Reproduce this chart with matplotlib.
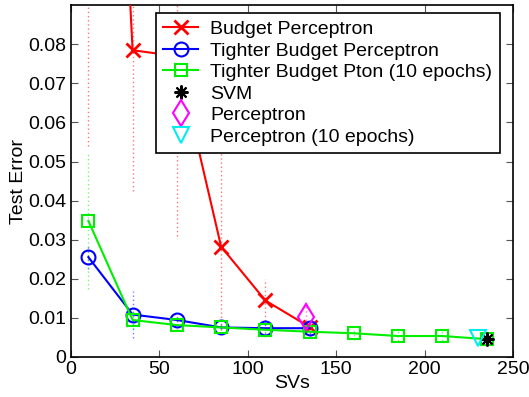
import matplotlib
matplotlib.use("Agg")
import matplotlib.pyplot as plt
import numpy as np

plt.rcParams['font.family'] = ['Liberation Sans', 'DejaVu Sans']

# Budget Perceptron
bp_x = [10, 35, 60, 85, 110, 135]
bp_y = [0.30, 0.0785, 0.077, 0.0282, 0.0144, 0.0076]
bp_lo = [0.246, 0.036, 0.046, 0.0214, 0.0064, 0.0015]
bp_hi = [0.10, 0.10, 0.05, 0.040, 0.0056, 0.0015]

# Tighter Budget Perceptron
tbp_x = [10, 35, 60, 85, 110, 135]
tbp_y = [0.0255, 0.0108, 0.0094, 0.0075, 0.0073, 0.0073]
tbp_err = [0.003, 0.006, 0.0015, 0.0015, 0.0015, 0.0015]

# Tighter Budget Pton (10 epochs)
tbp10_x = [10, 35, 60, 85, 110, 135, 160, 185, 210, 235]
tbp10_y = [0.0348, 0.0094, 0.0081, 0.0075, 0.0069, 0.0064, 0.0060, 0.0053, 0.0053, 0.0045]
tbp10_err = [0.0175, 0.0022, 0.0012, 0.0018, 0.0018, 0.0013, 0.0018, 0.0013, 0.0012, 0.0008]

svm_x, svm_y = [235], [0.0045]
perc_x, perc_y, perc_err = [133], [0.0102], [0.0040]
perc10_x, perc10_y = [230], [0.0049]

xticks = [0, 50, 100, 150, 200, 250]
yticks = [0, 0.01, 0.02, 0.03, 0.04, 0.05, 0.06, 0.07, 0.08]
yticklabels = ['0', '0.01', '0.02', '0.03', '0.04', '0.05', '0.06', '0.07', '0.08']

fig = plt.figure(figsize=(5.29, 3.97), dpi=100)
ax = fig.add_axes([0.1336, 0.1015, 0.8364, 0.885])

def dotted_err(x, y, yerr, color):
    c = ax.errorbar(x, y, yerr=yerr, fmt='none', ecolor=color, elinewidth=1.0, alpha=0.55, zorder=1)
    for lc in c[2]:
        lc.set_linestyle((0, (1, 2)))

dotted_err(bp_x, bp_y, [bp_lo, bp_hi], '#ff0000')
dotted_err(tbp_x, tbp_y, tbp_err, '#0000ff')
dotted_err(tbp10_x, tbp10_y, tbp10_err, '#00ee00')
dotted_err(perc_x, perc_y, perc_err, '#ff00ff')

ax.plot(bp_x, bp_y, '-x', color='#ff0000', lw=1.5, ms=10, mew=2, label='Budget Perceptron', zorder=3)
ax.plot(tbp_x, tbp_y, '-o', color='#0000ff', mfc='none', lw=1.5, ms=10, mew=1.5,
        label='Tighter Budget Perceptron', zorder=3)
ax.plot(tbp10_x, tbp10_y, '-s', color='#00ee00', mfc='none', lw=1.5, ms=9, mew=1.5,
        label='Tighter Budget Pton (10 epochs)', zorder=4)
ax.plot(svm_x, svm_y, marker=(8, 2, 0), color='black', ms=10, mew=1.5, ls='none', label='SVM', zorder=5)
ax.plot(perc_x, perc_y, 'd', color='#ff00ff', mfc='none', ms=13, mew=1.5, ls='none', label='Perceptron', zorder=5)
ax.plot(perc10_x, perc10_y, 'v', color='#00eeee', mfc='none', ms=11, mew=1.5, ls='none',
        label='Perceptron (10 epochs)', zorder=5)

ax.set_xlim(0, 250)
ax.set_ylim(0, 0.09)
ax.set_xticks(xticks)
ax.set_xticklabels([str(t) for t in xticks])
ax.set_yticks(yticks)
ax.set_yticklabels(yticklabels)
ax.tick_params(direction='in', top=True, right=True, labelsize=14, length=5, color='#555555', pad=3)
for s in ax.spines.values():
    s.set_linewidth(1.2)
ax.set_xlabel('SVs', fontsize=14, labelpad=-2)
ax.set_ylabel('Test Error', fontsize=14, labelpad=1)

leg = ax.legend(loc='upper right', bbox_to_anchor=(0.97, 0.979), fontsize=14, frameon=True, fancybox=False,
                edgecolor='black', framealpha=1, handlelength=1.8, borderpad=0.4, labelspacing=0.2,
                handletextpad=0.6, borderaxespad=0)
leg.get_frame().set_linewidth(1.2)

fig.savefig('out.png', dpi=100)
